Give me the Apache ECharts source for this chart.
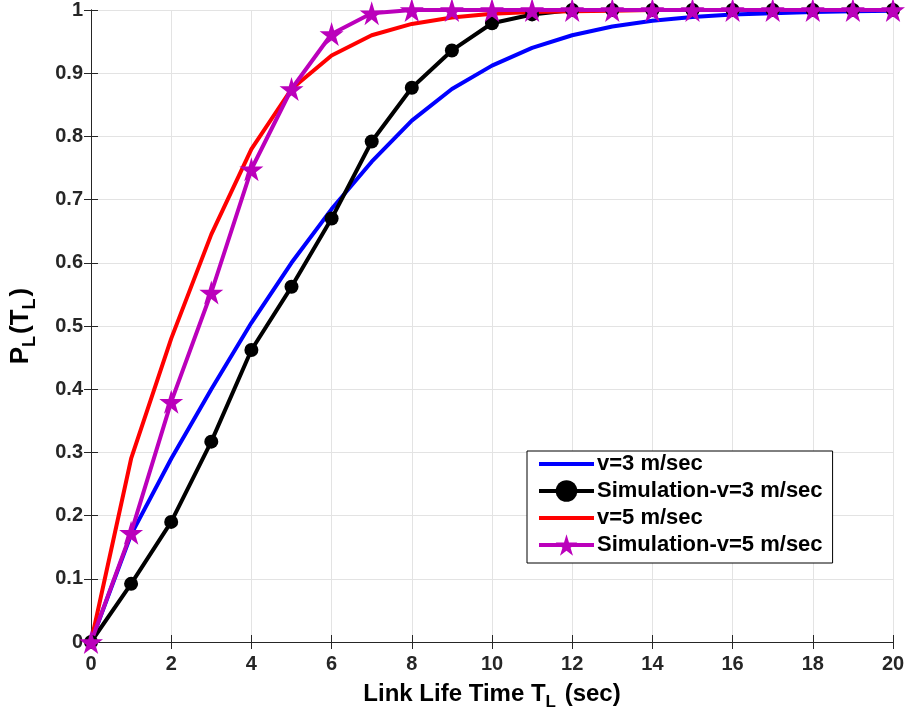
<!DOCTYPE html>
<html>
<head>
<meta charset="utf-8">
<script src="https://cdn.jsdelivr.net/npm/echarts@6/dist/echarts.min.js"></script>
<style>
  html, body { margin: 0; padding: 0; background: #fff; }
  #main { width: 908px; height: 716px; }
</style>
</head>
<body>
<div id="main"></div>
<script>
// link life time (sec)
var timeSec = [0, 1, 2, 3, 4, 5, 6, 7, 8, 9, 10, 11, 12, 13, 14, 15, 16, 17, 18, 19, 20];
// analytic and simulated curves
var theoryV3 = [0, 0.17, 0.29, 0.40, 0.505, 0.60, 0.685, 0.76, 0.825, 0.875, 0.912, 0.94, 0.96, 0.974, 0.983, 0.989, 0.993, 0.995, 0.997, 0.998, 0.999];
var simV3 = [0, 0.092, 0.19, 0.317, 0.462, 0.562, 0.67, 0.792, 0.877, 0.936, 0.979, 0.993, 1, 1, 1, 1, 1, 1, 1, 1, 1];
var theoryV5 = [0, 0.29, 0.48, 0.645, 0.78, 0.875, 0.928, 0.96, 0.978, 0.988, 0.994, 0.997, 0.998, 0.999, 1, 1, 1, 1, 1, 1, 1];
var simV5 = [0, 0.173, 0.38, 0.553, 0.748, 0.875, 0.962, 0.995, 1, 1, 1, 1, 1, 1, 1, 1, 1, 1, 1, 1, 1];
var seriesNames = ['v=3 m/sec', 'Simulation-v=3 m/sec', 'v=5 m/sec', 'Simulation-v=5 m/sec'];

var starPath = 'path://M50,0 L61,35 L98,35 L68,57 L79,91 L50,70 L21,91 L32,57 L2,35 L39,35 Z';
// plain bar icon for the legend of the lines without markers
var barIcon = 'path://M0,0 L55,0 L55,4 L0,4 Z';
var font = '"Liberation Sans", Arial, Helvetica, sans-serif';

function pairs(ys) {
  var out = [];
  for (var i = 0; i < timeSec.length; i++) out.push([timeSec[i], ys[i]]);
  return out;
}

var chart = echarts.init(document.getElementById('main'));

var tickLabel = { color: '#262626', fontSize: 20, fontWeight: 'bold', fontFamily: font };
var frameLine = { show: true, lineStyle: { color: '#262626', width: 1 } };
var innerTick = { show: true, inside: true, length: 7, lineStyle: { color: '#262626' } };

var option = {
  animation: false,
  backgroundColor: '#fff',
  grid: { left: 90, right: 15, top: 10, bottom: 73 },
  legend: {
    orient: 'vertical',
    left: 527, top: 451,
    data: [
      { name: seriesNames[0], icon: barIcon },
      { name: seriesNames[1] },
      { name: seriesNames[2], icon: barIcon },
      { name: seriesNames[3] }
    ],
    backgroundColor: '#fff',
    borderColor: '#000', borderWidth: 1,
    padding: [2, 10, 7, 10],
    itemWidth: 55, itemHeight: 27,
    itemGap: 5,
    symbolKeepAspect: true,
    lineStyle: { width: 4 },
    textStyle: { color: '#000', fontSize: 22, fontWeight: 'bold', fontFamily: font, padding: [0, 0, 0, -2] }
  },
  xAxis: [{
    type: 'value', min: 0, max: 20, interval: 2,
    axisLine: frameLine,
    axisTick: innerTick,
    axisLabel: Object.assign({ margin: 12 }, tickLabel),
    splitLine: { show: true, lineStyle: { color: '#e3e3e3', width: 1 } },
    name: '{a|Link Life Time T}{s|L}{a| (sec)}',
    nameLocation: 'middle', nameGap: 36,
    nameTextStyle: {
      rich: {
        a: { fontSize: 24, fontWeight: 'bold', color: '#000', fontFamily: font },
        s: { fontSize: 17, fontWeight: 'bold', color: '#000', fontFamily: font, padding: [16, 2, 0, 0] }
      }
    }
  }, {
    type: 'value', min: 0, max: 20, interval: 2, position: 'top',
    axisLine: frameLine,
    axisTick: innerTick,
    axisLabel: { show: false }, splitLine: { show: false }
  }],
  yAxis: [{
    type: 'value', min: 0, max: 1, interval: 0.1,
    axisLine: frameLine,
    axisTick: innerTick,
    axisLabel: Object.assign({ margin: 8 }, tickLabel),
    splitLine: { show: true, lineStyle: { color: '#e3e3e3', width: 1 } },
    name: '{a|P}{s|L}{a|(T}{s|L}{a|)}',
    nameLocation: 'middle', nameGap: 52,
    nameTextStyle: {
      rich: {
        a: { fontSize: 26, fontWeight: 'bold', color: '#000', fontFamily: font },
        s: { fontSize: 18, fontWeight: 'bold', color: '#000', fontFamily: font, padding: [18, 2, 0, 0] }
      }
    }
  }, {
    type: 'value', min: 0, max: 1, interval: 0.1, position: 'right',
    axisLine: frameLine,
    axisTick: innerTick,
    axisLabel: { show: false }, splitLine: { show: false }
  }],
  series: [{
    name: seriesNames[0], type: 'line', data: pairs(theoryV3),
    showSymbol: false,
    lineStyle: { color: '#0000ff', width: 4 }, itemStyle: { color: '#0000ff' }
  }, {
    name: seriesNames[1], type: 'line', data: pairs(simV3),
    symbol: 'circle', symbolSize: 14,
    lineStyle: { color: '#000', width: 4 }, itemStyle: { color: '#000' }
  }, {
    name: seriesNames[2], type: 'line', data: pairs(theoryV5),
    showSymbol: false,
    lineStyle: { color: '#ff0000', width: 4 }, itemStyle: { color: '#ff0000' }
  }, {
    name: seriesNames[3], type: 'line', data: pairs(simV5),
    symbol: starPath, symbolSize: 24,
    lineStyle: { color: '#bb00bb', width: 4 }, itemStyle: { color: '#bb00bb' }
  }]
};

chart.setOption(option);
</script>
</body>
</html>
